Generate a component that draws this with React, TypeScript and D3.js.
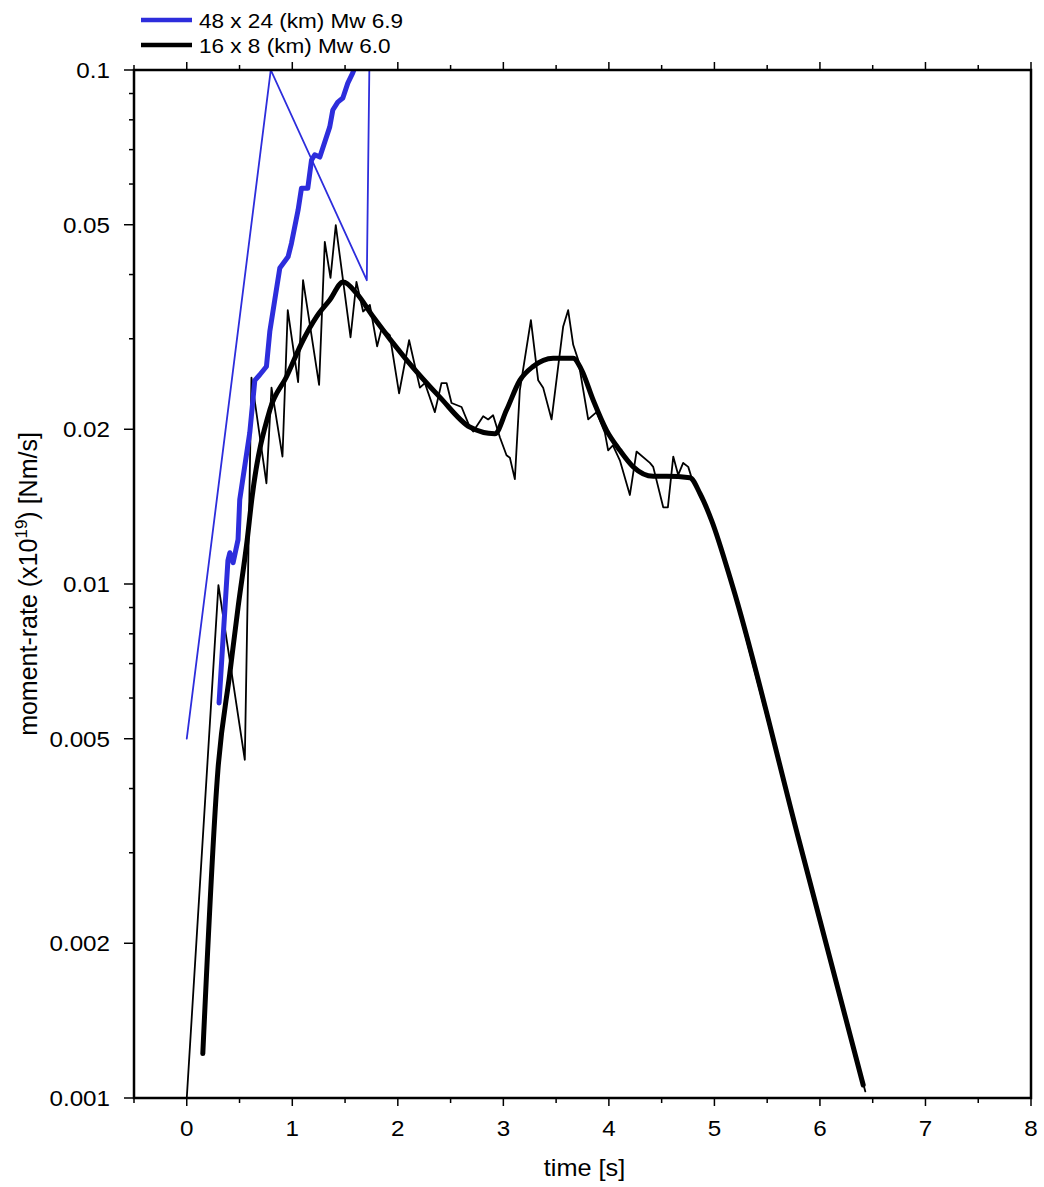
import React from "react";
import * as d3 from "d3";

// ---- data (time [s], moment-rate x1e19 Nm/s) ----
const blueThinT = [0, 0.796, 1.706, 1.73];
const blueThinV = [0.005, 0.1, 0.039, 0.1];

const blueThickT = [0.306, 0.39, 0.408, 0.439, 0.486, 0.502, 0.597, 0.645, 0.69, 0.755, 0.787, 0.834, 0.882, 0.96, 0.992, 1.055, 1.087, 1.147, 1.182, 1.213, 1.261, 1.355, 1.384, 1.431, 1.479, 1.526, 1.573, 1.6];
const blueThickV = [0.00587, 0.0111, 0.0115, 0.011, 0.0122, 0.0146, 0.0197, 0.0249, 0.0255, 0.0265, 0.031, 0.0357, 0.0412, 0.0433, 0.046, 0.0534, 0.0589, 0.0589, 0.0668, 0.0684, 0.0677, 0.0775, 0.0836, 0.0866, 0.0882, 0.0943, 0.0987, 0.102];

const blackThinT = [0, 0.3, 0.55, 0.613, 0.755, 0.803, 0.907, 0.957, 1.055, 1.102, 1.254, 1.308, 1.362, 1.412, 1.552, 1.608, 1.671, 1.735, 1.804, 1.848, 1.924, 2.012, 2.107, 2.209, 2.256, 2.351, 2.414, 2.462, 2.509, 2.604, 2.682, 2.714, 2.809, 2.856, 2.903, 2.967, 3.03, 3.062, 3.109, 3.156, 3.261, 3.33, 3.377, 3.457, 3.567, 3.614, 3.662, 3.709, 3.804, 3.883, 3.962, 3.993, 4.038, 4.104, 4.199, 4.262, 4.389, 4.42, 4.515, 4.559, 4.61, 4.657, 4.704, 4.752, 4.784, 4.863, 4.973, 5.166, 5.8, 6.43];
const blackThinV = [0.001, 0.00995, 0.00455, 0.0252, 0.0157, 0.0241, 0.0177, 0.0341, 0.0247, 0.039, 0.0244, 0.0463, 0.0394, 0.0499, 0.0302, 0.0387, 0.0339, 0.0349, 0.029, 0.0315, 0.0305, 0.0235, 0.0298, 0.0241, 0.0246, 0.0216, 0.0246, 0.0246, 0.0225, 0.0221, 0.0202, 0.0198, 0.0212, 0.0209, 0.0213, 0.0193, 0.0178, 0.0176, 0.016, 0.0238, 0.0326, 0.0249, 0.0241, 0.0209, 0.0317, 0.0341, 0.0292, 0.0273, 0.0209, 0.0216, 0.0197, 0.0182, 0.0186, 0.0174, 0.0149, 0.0181, 0.0172, 0.0169, 0.0141, 0.0141, 0.0177, 0.0163, 0.0172, 0.0169, 0.0161, 0.015, 0.0133, 0.01, 0.00318, 0.00103];

const blackThickT = [0.152, 0.295, 0.408, 0.486, 0.573, 0.616, 0.787, 0.945, 1.102, 1.229, 1.355, 1.482, 1.608, 1.766, 2.082, 2.398, 2.682, 2.919, 3.03, 3.156, 3.282, 3.472, 3.662, 3.741, 3.851, 3.978, 4.104, 4.231, 4.42, 4.547, 4.768, 4.863, 4.973, 5.166, 5.8, 6.41];
const blackThickV = [0.00122, 0.00434, 0.0067, 0.009, 0.0122, 0.0146, 0.0218, 0.0253, 0.0298, 0.0331, 0.0357, 0.0387, 0.0368, 0.0331, 0.0273, 0.0231, 0.0202, 0.0196, 0.0218, 0.0249, 0.0265, 0.0275, 0.0275, 0.0261, 0.0228, 0.0199, 0.0182, 0.0169, 0.0162, 0.0162, 0.0161, 0.015, 0.0133, 0.01, 0.00318, 0.00106];

const xTickValues = [0, 1, 2, 3, 4, 5, 6, 7, 8];
const xMinorValues = [-0.5, 0.5, 1.5, 2.5, 3.5, 4.5, 5.5, 6.5, 7.5];
const yLabelValues = [0.001, 0.002, 0.005, 0.01, 0.02, 0.05, 0.1];
const legendLabels = ["48 x 24 (km) Mw 6.9", "16 x 8 (km) Mw 6.0"];
const xTitle = "time [s]";

const BLUE = "#2d2ddc";
const FONT = "'Liberation Sans', Arial, Helvetica, sans-serif";
const SX = 1.1;

export default function App() {
  const W = 1044, H = 1187;
  const L = 134, R = 1031, T = 70, B = 1098;
  const x = d3.scaleLinear().domain([-0.5, 8]).range([L, R]);
  const y = d3.scaleLog().domain([0.001, 0.1]).range([B, T]);

  const mk = (ts: number[], vs: number[]) => ts.map((t, i) => [t, vs[i]] as [number, number]);
  const lin = d3.line<[number, number]>().x(d => x(d[0])).y(d => y(d[1]));
  const smooth = d3.line<[number, number]>().x(d => x(d[0])).y(d => y(d[1])).curve(d3.curveMonotoneX);

  const yMinor: number[] = [];
  [0.001, 0.01].forEach(dec => {
    for (let k = 1; k <= 9; k++) yMinor.push(+(k * dec).toFixed(4));
  });
  yMinor.push(0.1);
  const isMajor = (v: number) => yLabelValues.some(m => Math.abs(m - v) < 1e-9);

  const txt = (x0: number, y0: number, s: any, size: number, anchor: string) => (
    <text transform={`translate(${x0},${y0}) scale(${SX},1)`} fontSize={size} textAnchor={anchor} fontFamily={FONT} fill="#000">{s}</text>
  );

  return (
    <svg width={W} height={H} style={{ position: "absolute", left: 0, top: 0, background: "#fff" }}>
      <rect x={0} y={0} width={W} height={H} fill="#fff" />
      <defs>
        <clipPath id="plotclip">
          <rect x={L} y={T} width={R - L} height={B - T} />
        </clipPath>
      </defs>

      <g clipPath="url(#plotclip)" fill="none" strokeLinejoin="round" strokeLinecap="round">
        <path d={lin(mk(blueThinT, blueThinV)) || ""} stroke={BLUE} strokeWidth={1.8} />
        <path d={lin(mk(blackThinT, blackThinV)) || ""} stroke="#000" strokeWidth={1.8} />
        <path d={smooth(mk(blackThickT, blackThickV)) || ""} stroke="#000" strokeWidth={5} />
        <path d={lin(mk(blueThickT, blueThickV)) || ""} stroke={BLUE} strokeWidth={5} />
      </g>

      {/* frame */}
      <rect x={L} y={T} width={R - L} height={B - T} fill="none" stroke="#000" strokeWidth={2.5} />

      {/* x ticks bottom & top */}
      {xTickValues.map(v => (
        <g key={"xt" + v}>
          <line x1={x(v)} x2={x(v)} y1={B} y2={B + 8} stroke="#000" strokeWidth={1.5} />
          <line x1={x(v)} x2={x(v)} y1={T} y2={T - 8} stroke="#000" strokeWidth={1.5} />
          {txt(x(v), 1136, String(v), 22, "middle")}
        </g>
      ))}
      {xMinorValues.map(v => (
        <g key={"xm" + v}>
          <line x1={x(v)} x2={x(v)} y1={B} y2={B + 5} stroke="#000" strokeWidth={1.5} />
          <line x1={x(v)} x2={x(v)} y1={T} y2={T - 5} stroke="#000" strokeWidth={1.5} />
        </g>
      ))}

      {/* y ticks left */}
      {yMinor.map(v => {
        const len = isMajor(v) ? 10 : 5;
        return (
          <line key={"yt" + v} x1={L} x2={L - len} y1={y(v)} y2={y(v)} stroke="#000" strokeWidth={1.5} />
        );
      })}
      {yLabelValues.map(v => (
        <g key={"yl" + v}>{txt(110, y(v) + 8, String(v), 22, "end")}</g>
      ))}

      {/* axis titles */}
      {txt((L + R) / 2 + 2, 1176, xTitle, 23, "middle")}
      <text transform={`translate(37,${(T + B) / 2}) rotate(-90)`} fontSize={25} textAnchor="middle" fontFamily={FONT} fill="#000">
        moment-rate (x10<tspan fontSize={17} dy={-10}>19</tspan><tspan dy={10}>) [Nm/s]</tspan>
      </text>

      {/* legend */}
      <line x1={141} x2={192} y1={20} y2={20} stroke={BLUE} strokeWidth={4.5} />
      <line x1={141} x2={192} y1={45} y2={45} stroke="#000" strokeWidth={4.5} />
      {txt(199, 28, legendLabels[0], 20.5, "start")}
      {txt(199, 53, legendLabels[1], 20.5, "start")}
    </svg>
  );
}
